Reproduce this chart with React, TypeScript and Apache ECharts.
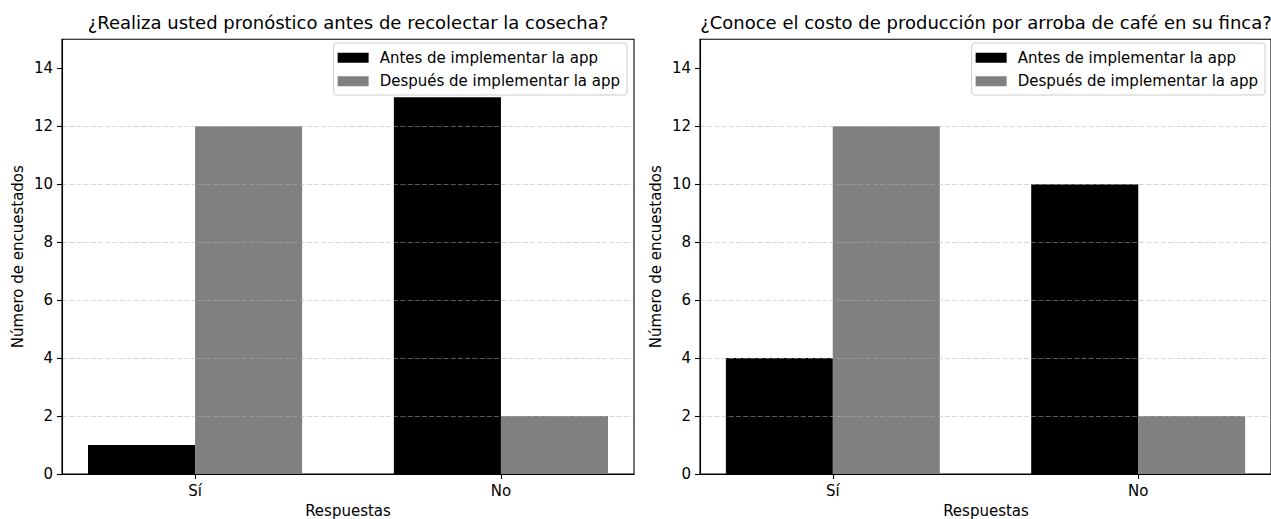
import React, { useEffect, useRef } from 'react';
import * as echarts from 'echarts';

const categories = ['Sí', 'No'];
const seriesNames = ['Antes de implementar la app', 'Después de implementar la app'];
const pronosticoAntes = [1, 13];
const pronosticoDespues = [12, 2];
const costoAntes = [4, 10];
const costoDespues = [12, 2];
const yTicks = [0, 2, 4, 6, 8, 10, 12, 14];
const titles = [
  '¿Realiza usted pronóstico antes de recolectar la cosecha?',
  '¿Conoce el costo de producción por arroba de café en su finca?',
];
const xAxisName = 'Respuestas';
const yAxisName = 'Número de encuestados';

const W = 1271;
const H = 519;
const FONT = 'DejaVu Sans';
const FS = 15;
const TITLE_FS = 18;
const BAR_UNITS = 0.35;
const X_MIN = -0.435;
const X_MAX = 1.435;
const Y_MAX = 15;

const GRID_TOP = 39.3;
const GRID_H = 434.7;
const GRID_W = 572;
const GRID_LEFTS = [62, 700];

export default function App() {
  const ref = useRef<HTMLDivElement>(null);
  useEffect(() => {
    const chart = echarts.init(ref.current!, null, { renderer: 'svg', width: W, height: H });
    const barPx = (GRID_W / (X_MAX - X_MIN)) * BAR_UNITS;
    const panels = [
      [pronosticoAntes, pronosticoDespues],
      [costoAntes, costoDespues],
    ];
    const colors = ['#000000', '#808080'];
    const textBase = { fontFamily: FONT, color: '#000', fontSize: FS };

    const grid = GRID_LEFTS.map((l) => ({
      left: l,
      top: GRID_TOP,
      width: GRID_W,
      height: GRID_H,
      show: true,
      borderColor: '#000',
      borderWidth: 1.1,
      backgroundColor: 'transparent',
      containLabel: false,
    }));

    const xAxis = GRID_LEFTS.map((_, gi) => ({
      type: 'value',
      gridIndex: gi,
      min: X_MIN,
      max: X_MAX,
      z: 5,
      splitLine: { show: false },
      axisLine: { show: true, onZero: false, lineStyle: { color: '#000', width: 1.1 } },
      axisTick: { show: true, customValues: [0, 1], length: 5, lineStyle: { color: '#000', width: 1.1 } },
      axisLabel: {
        ...textBase,
        customValues: [0, 1],
        margin: 9,
        formatter: (v: number) => categories[Math.round(v)] ?? '',
      },
    }));

    const yAxis = GRID_LEFTS.map((_, gi) => ({
      type: 'value',
      gridIndex: gi,
      min: 0,
      max: Y_MAX,
      interval: 2,
      z: 3,
      axisLine: { show: true, onZero: false, lineStyle: { color: '#000', width: 1.1 } },
      axisTick: { show: true, customValues: yTicks, length: 5, lineStyle: { color: '#000', width: 1.1 } },
      axisLabel: { ...textBase, customValues: yTicks, margin: 9 },
      splitLine: {
        show: true,
        showMinLine: false,
        showMaxLine: false,
        lineStyle: { color: 'rgba(176,176,176,0.5)', type: [5, 2.2], width: 1.1 },
      },
    }));

    const series: any[] = [];
    panels.forEach((vals, gi) => {
      vals.forEach((arr, si) => {
        const off = si === 0 ? -BAR_UNITS / 2 : BAR_UNITS / 2;
        series.push({
          type: 'bar',
          name: seriesNames[si],
          xAxisIndex: gi,
          yAxisIndex: gi,
          data: arr.map((v, i) => [i + off, v]),
          barWidth: barPx,
          barGap: '-100%',
          itemStyle: { color: colors[si] },
          z: 2,
        });
      });
    });

    const legend = GRID_LEFTS.map((l) => ({
      orient: 'vertical',
      right: W - (l + GRID_W - 7),
      top: 43,
      data: seriesNames,
      icon: 'rect',
      itemWidth: 31,
      itemHeight: 10,
      itemGap: 6,
      padding: [6, 7, 5, 4],
      borderColor: '#cccccc',
      borderWidth: 1,
      borderRadius: 3,
      backgroundColor: 'rgba(255,255,255,0.8)',
      selectedMode: false,
      textStyle: { ...textBase, lineHeight: 17.5, padding: [0, 0, 0, 6] },
    }));

    const graphic: any[] = [];
    GRID_LEFTS.forEach((l, gi) => {
      const cx = l + GRID_W / 2;
      graphic.push({
        type: 'text',
        x: cx,
        y: 22,
        style: { text: titles[gi], fontFamily: FONT, fontSize: TITLE_FS, fill: '#000', align: 'center', verticalAlign: 'middle' },
      });
      graphic.push({
        type: 'text',
        x: cx,
        y: 511,
        style: { text: xAxisName, fontFamily: FONT, fontSize: FS, fill: '#000', align: 'center', verticalAlign: 'middle' },
      });
      graphic.push({
        type: 'text',
        x: l - 44,
        y: GRID_TOP + GRID_H / 2,
        rotation: Math.PI / 2,
        style: { text: yAxisName, fontFamily: FONT, fontSize: FS, fill: '#000', align: 'center', verticalAlign: 'middle' },
      });
    });

    chart.setOption({
      animation: false,
      backgroundColor: '#fff',
      grid,
      xAxis,
      yAxis,
      series,
      legend,
      graphic,
    });
    return () => chart.dispose();
  }, []);
  return (
    <div
      ref={ref}
      style={{ position: 'fixed', left: 0, top: 0, width: W, height: H, background: '#fff' }}
    />
  );
}
